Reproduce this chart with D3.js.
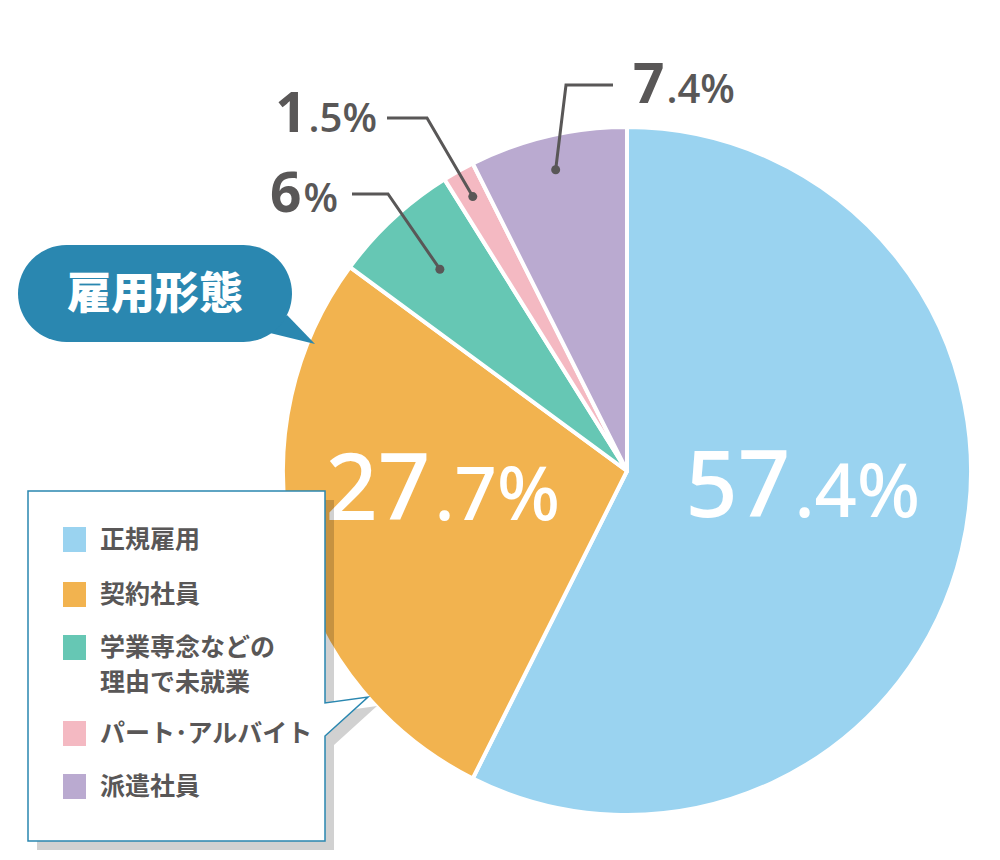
<!DOCTYPE html>
<html>
<head>
<meta charset="utf-8">
<script src="https://cdn.jsdelivr.net/npm/d3@7"></script>
<style>
  body { margin: 0; background: #fff; }
  svg { display: block; font-family: "Noto Sans", "Open Sans", sans-serif; }
  .jp { font-family: "Noto Sans CJK JP", "Noto Sans", sans-serif; }
  .semi { font-family: "Open Sans", "Noto Sans", sans-serif; }
</style>
</head>
<body>
<svg id="chart" width="1000" height="860"></svg>
<script>
// categories, values and colours
const categories = ["正規雇用", "契約社員", "学業専念などの\n理由で未就業", "パート･アルバイト", "派遣社員"];
const values = [57.4, 27.7, 6, 1.5, 7.4];
const colors = ["#9ad3f0", "#f2b34f", "#66c7b4", "#f4b9c2", "#baaad0"];
const title = "雇用形態";

const width = 1000;
const height = 860;
const cx = 627, cy = 471, radius = 344;
const textGray = "#595757";
const titleBlue = "#2a87b0";

const svg = d3.select("#chart");

const slices = d3.pie().sort(null).value((d) => d)(values);
const arc = d3.arc().innerRadius(0).outerRadius(radius);

const pieGroup = svg.append("g").attr("transform", `translate(${cx}, ${cy})`);

// Pie slices
pieGroup
  .selectAll(".slice")
  .data(slices)
  .enter()
  .append("path")
  .attr("class", "slice")
  .attr("d", arc)
  .attr("fill", (d, i) => colors[i])
  .attr("stroke", "#fff")
  .attr("stroke-width", 4)
  .attr("stroke-linejoin", "round");

// split "57.4" into big integer part and smaller ".4%"
function splitValue(v) {
  const s = String(v);
  const p = s.indexOf(".");
  return p < 0 ? [s, "%"] : [s.slice(0, p), s.slice(p) + "%"];
}

// Big labels inside the two large slices
const bigLabels = [
  { i: 0, x: 920, y: 517 },
  { i: 1, x: 560, y: 520 }
];
bigLabels.forEach((b) => {
  const parts = splitValue(values[b.i]);
  const t = svg.append("text")
    .attr("x", b.x)
    .attr("y", b.y)
    .attr("text-anchor", "end")
    .attr("fill", "#fff")
    .attr("font-weight", 500);
  t.append("tspan").attr("font-size", 92).text(parts[0]);
  t.append("tspan").attr("font-size", 74).attr("dx", 4).text(parts[1]);
});

// Outside labels with leader lines (teal, pink, purple)
const outside = [
  { i: 2, r: 0.8, elbow: [388, 194], end: [352, 194], tx: 338, ty: 212 },
  { i: 3, r: 0.915, elbow: [427, 118], end: [387, 118], tx: 377, ty: 132 },
  { i: 4, r: 0.9, elbow: [566, 85], end: [613, 85], tx: 633, ty: 103, left: true }
];
outside.forEach((o) => {
  const c = d3.arc().innerRadius(radius * o.r).outerRadius(radius * o.r).centroid(slices[o.i]);
  const dot = [cx + c[0], cy + c[1]];
  svg.append("path")
    .attr("d", d3.line()([dot, o.elbow, o.end]))
    .attr("fill", "none")
    .attr("stroke", textGray)
    .attr("stroke-width", 3);
  svg.append("circle")
    .attr("cx", dot[0])
    .attr("cy", dot[1])
    .attr("r", 4.5)
    .attr("fill", textGray);
  const parts = splitValue(values[o.i]);
  const t = svg.append("text")
    .attr("x", o.tx)
    .attr("y", o.ty)
    .attr("text-anchor", o.left ? "start" : "end")
    .attr("fill", textGray);
  t.append("tspan").attr("font-size", 55).attr("font-weight", 700).text(parts[0]);
  t.append("tspan").attr("class", "semi").attr("font-size", 40).attr("font-weight", 600).attr("dx", 2).text(parts[1]);
});

// Title speech bubble
const bubble = svg.append("g");
bubble.append("path")
  .attr("d", d3.line()([[270, 333], [315, 344], [287, 315]]))
  .attr("fill", titleBlue);
bubble.append("rect")
  .attr("x", 18).attr("y", 245)
  .attr("width", 274).attr("height", 97)
  .attr("rx", 48.5)
  .attr("fill", titleBlue);
bubble.append("text")
  .attr("class", "jp")
  .attr("x", 155).attr("y", 309)
  .attr("text-anchor", "middle")
  .attr("font-size", 44)
  .attr("font-weight", 900)
  .attr("fill", "#fff")
  .text(title);

// Legend callout box with shadow
const boxPath = "M28,491 H325 V703 L368,697 L325,736 V841 H28 Z";
svg.append("path")
  .attr("d", boxPath)
  .attr("transform", "translate(9, 9)")
  .attr("fill", "#000")
  .attr("fill-opacity", 0.18);
svg.append("path")
  .attr("d", boxPath)
  .attr("fill", "#fff")
  .attr("stroke", titleBlue)
  .attr("stroke-width", 1.5);

const legendRows = [539, 594, 647, 733, 786];
const legend = svg.append("g").attr("class", "legend");
categories.forEach((name, i) => {
  const y = legendRows[i];
  legend.append("rect")
    .attr("x", 63).attr("y", y - 12)
    .attr("width", 23).attr("height", 25)
    .attr("fill", colors[i]);
  const t = legend.append("text")
    .attr("class", "jp")
    .attr("x", 100).attr("y", y + 9)
    .attr("font-size", 25)
    .attr("font-weight", 700)
    .attr("fill", textGray);
  name.split("\n").forEach((line, k) => {
    t.append("tspan").attr("x", 100).attr("dy", k === 0 ? 0 : 35).text(line);
  });
});
</script>
</body>
</html>
